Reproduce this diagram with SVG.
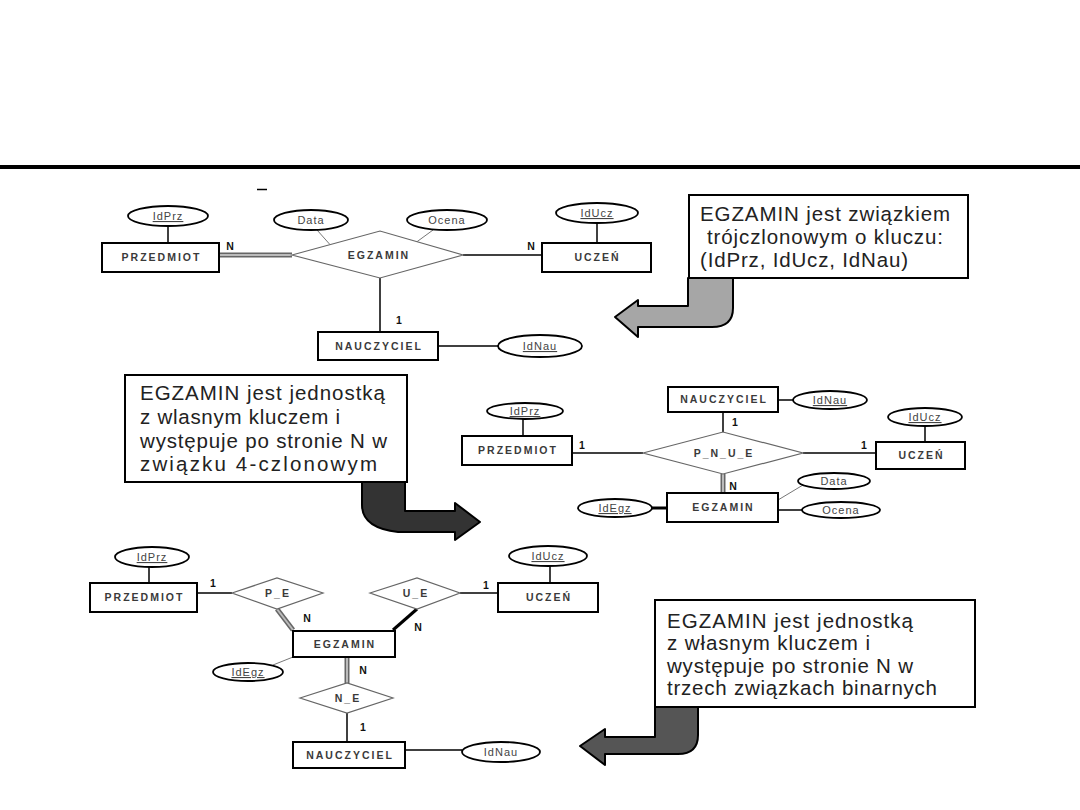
<svg xmlns="http://www.w3.org/2000/svg" width="1080" height="810" viewBox="0 0 1080 810">
<style>
.ent rect{fill:#fff;stroke:#000;stroke-width:2}
.ent text,.rel text{font-family:"Liberation Sans",Arial,sans-serif;font-size:10.5px;font-weight:bold;fill:#3a3a3a;text-anchor:middle;letter-spacing:2px}
.rel polygon{fill:#fff;stroke:#666;stroke-width:1.2}
.attr ellipse{fill:#fff;stroke:#000;stroke-width:1.8}
.attr text{font-family:"Liberation Sans",Arial,sans-serif;font-size:11px;fill:#444;text-anchor:middle;letter-spacing:1px}
.attr text.key{text-decoration:underline}
.card{font-family:"Liberation Sans",Arial,sans-serif;font-size:10.5px;font-weight:bold;fill:#111;text-anchor:middle}
.ln{stroke:#000;stroke-width:1.5;fill:none}
.thin{stroke:#777;stroke-width:1;fill:none}
.thick{stroke:#000;stroke-width:3;fill:none}
.dblo{stroke:#666;stroke-width:5;fill:none}
.dbli{stroke:#bbb;stroke-width:2;fill:none}
.note rect{fill:#fff;stroke:#000;stroke-width:2}
.note text{font-family:"Liberation Sans",Arial,sans-serif;font-size:20.5px;fill:#222}
.arrow{stroke:#000;stroke-width:2;stroke-linejoin:round}
</style>
<rect x="0" y="0" width="1080" height="810" fill="#fff"/>
<rect x="0" y="165" width="1080" height="4" fill="#000"/>
<line x1="257" y1="189.5" x2="267" y2="189.5" stroke="#000" stroke-width="1.5"/>

<g id="connectors">
  <!-- top diagram -->
  <line class="ln" x1="168" y1="226" x2="168" y2="243"/>
  <line class="dblo" x1="219" y1="255" x2="292" y2="255"/>
  <line class="dbli" x1="219" y1="255" x2="292" y2="255"/>
  <line class="thin" x1="317" y1="230" x2="330" y2="244.6"/>
  <line class="thin" x1="433" y1="230" x2="417" y2="241.7"/>
  <line class="ln" x1="463" y1="255" x2="542" y2="255"/>
  <line class="ln" x1="597" y1="223" x2="597" y2="243"/>
  <line class="ln" x1="380" y1="278" x2="380" y2="332"/>
  <line class="ln" x1="438" y1="346" x2="498" y2="346"/>
  <text class="card" x="230" y="250">N</text>
  <text class="card" x="531" y="250">N</text>
  <text class="card" x="399" y="324">1</text>
  <!-- middle diagram -->
  <line class="ln" x1="778" y1="400" x2="793" y2="400"/>
  <line class="ln" x1="723" y1="412" x2="723" y2="432"/>
  <line class="ln" x1="523" y1="419" x2="523" y2="436"/>
  <line class="ln" x1="572" y1="453" x2="643" y2="453"/>
  <line class="ln" x1="803" y1="453" x2="876" y2="453"/>
  <line class="ln" x1="925" y1="426" x2="925" y2="442"/>
  <line class="dblo" x1="723" y1="474" x2="723" y2="493"/>
  <line class="dbli" x1="723" y1="474" x2="723" y2="493"/>
  <line class="thick" x1="652" y1="508" x2="667" y2="508"/>
  <line class="thin" x1="778" y1="500" x2="803" y2="485"/>
  <line class="ln" x1="778" y1="510" x2="802" y2="510"/>
  <text class="card" x="735" y="426">1</text>
  <text class="card" x="582" y="449">1</text>
  <text class="card" x="864" y="449">1</text>
  <text class="card" x="733" y="490">N</text>
  <!-- bottom diagram -->
  <line class="ln" x1="149" y1="567" x2="149" y2="583"/>
  <line class="ln" x1="197" y1="593" x2="232" y2="593"/>
  <line class="dblo" x1="277" y1="609" x2="293" y2="630"/>
  <line class="dbli" x1="277" y1="609" x2="293" y2="630"/>
  <line class="thin" x1="273" y1="665" x2="293" y2="657"/>
  <line class="dblo" x1="347" y1="657" x2="347" y2="683"/>
  <line class="dbli" x1="347" y1="657" x2="347" y2="683"/>
  <line class="ln" x1="347" y1="713" x2="347" y2="742"/>
  <line class="ln" x1="405" y1="750" x2="462" y2="750"/>
  <line class="thick" x1="417" y1="609" x2="393" y2="630"/>
  <line class="ln" x1="460" y1="593" x2="498" y2="593"/>
  <line class="ln" x1="550" y1="566" x2="550" y2="583"/>
  <text class="card" x="213" y="587">1</text>
  <text class="card" x="307" y="622">N</text>
  <text class="card" x="363" y="674">N</text>
  <text class="card" x="363" y="731">1</text>
  <text class="card" x="418" y="631">N</text>
  <text class="card" x="486" y="589">1</text>
</g>

<!-- top diagram nodes -->
<g id="t-idprz" class="attr"><ellipse cx="168" cy="216" rx="40" ry="10"/><text class="key" x="168" y="220">IdPrz</text></g>
<g id="t-przedmiot" class="ent"><rect x="102" y="243" width="117" height="29"/><text x="161.5" y="261">PRZEDMIOT</text></g>
<g id="t-egzamin" class="rel"><polygon points="292,255 380,231 463,255 380,278"/><text x="379" y="259">EGZAMIN</text></g>
<g id="t-data" class="attr"><ellipse cx="311" cy="220" rx="37" ry="10"/><text x="311" y="224">Data</text></g>
<g id="t-ocena" class="attr"><ellipse cx="447" cy="220" rx="40" ry="10"/><text x="447" y="224">Ocena</text></g>
<g id="t-uczen" class="ent"><rect x="542" y="243" width="109" height="29"/><text x="597.5" y="261">UCZEŃ</text></g>
<g id="t-iducz" class="attr"><ellipse cx="597" cy="213" rx="41" ry="10"/><text class="key" x="597" y="217">IdUcz</text></g>
<g id="t-nauczyciel" class="ent"><rect x="318" y="332" width="120" height="28"/><text x="379" y="350">NAUCZYCIEL</text></g>
<g id="t-idnau" class="attr"><ellipse cx="540" cy="346" rx="42" ry="11"/><text class="key" x="540" y="350">IdNau</text></g>

<!-- middle diagram nodes -->
<g id="m-nauczyciel" class="ent"><rect x="668" y="387" width="110" height="25"/><text x="724" y="403">NAUCZYCIEL</text></g>
<g id="m-idnau" class="attr"><ellipse cx="830" cy="400" rx="37" ry="9"/><text class="key" x="830" y="404">IdNau</text></g>
<g id="m-pnue" class="rel"><polygon points="643,453 723,432 803,453 723,474"/><text x="724" y="457">P_N_U_E</text></g>
<g id="m-idprz" class="attr"><ellipse cx="525" cy="411" rx="38" ry="8"/><text class="key" x="525" y="415">IdPrz</text></g>
<g id="m-przedmiot" class="ent"><rect x="462" y="436" width="110" height="29"/><text x="518" y="454">PRZEDMIOT</text></g>
<g id="m-uczen" class="ent"><rect x="876" y="442" width="89" height="27"/><text x="921.5" y="459">UCZEŃ</text></g>
<g id="m-iducz" class="attr"><ellipse cx="925" cy="417" rx="37" ry="9"/><text class="key" x="925" y="421">IdUcz</text></g>
<g id="m-egzamin" class="ent"><rect x="667" y="493" width="111" height="29"/><text x="723.5" y="511">EGZAMIN</text></g>
<g id="m-idegz" class="attr"><ellipse cx="615" cy="508" rx="37" ry="9"/><text class="key" x="615" y="512">IdEgz</text></g>
<g id="m-data" class="attr"><ellipse cx="834" cy="481" rx="36" ry="8"/><text x="834" y="485">Data</text></g>
<g id="m-ocena" class="attr"><ellipse cx="841" cy="510" rx="39" ry="8"/><text x="841" y="514">Ocena</text></g>

<!-- bottom diagram nodes -->
<g id="b-idprz" class="attr"><ellipse cx="152" cy="557" rx="37" ry="10"/><text class="key" x="152" y="561">IdPrz</text></g>
<g id="b-przedmiot" class="ent"><rect x="90" y="583" width="107" height="29"/><text x="144.5" y="601">PRZEDMIOT</text></g>
<g id="b-pe" class="rel"><polygon points="232,593 277,578 323,593 277,609"/><text x="278" y="597">P_E</text></g>
<g id="b-ue" class="rel"><polygon points="370,593 417,578 460,593 417,609"/><text x="416" y="597">U_E</text></g>
<g id="b-uczen" class="ent"><rect x="498" y="583" width="100" height="29"/><text x="549" y="601">UCZEŃ</text></g>
<g id="b-iducz" class="attr"><ellipse cx="548" cy="556" rx="39" ry="10"/><text class="key" x="548" y="560">IdUcz</text></g>
<g id="b-egzamin" class="ent"><rect x="293" y="631" width="102" height="26"/><text x="345" y="648">EGZAMIN</text></g>
<g id="b-idegz" class="attr"><ellipse cx="248" cy="672" rx="35" ry="9"/><text class="key" x="248" y="676">IdEgz</text></g>
<g id="b-ne" class="rel"><polygon points="300,698 347,683 393,698 347,713"/><text x="348" y="702">N_E</text></g>
<g id="b-nauczyciel" class="ent"><rect x="293" y="742" width="112" height="26"/><text x="350" y="759">NAUCZYCIEL</text></g>
<g id="b-idnau" class="attr"><ellipse cx="501" cy="752" rx="39" ry="10"/><text x="501" y="756">IdNau</text></g>

<!-- notes -->
<g id="note1" class="note">
  <path class="arrow" fill="#a6a6a6" d="M688 278 L733 278 L733 308 Q733 327 712 327 L638 327 L638 337 L615 317 L638 300 L638 306 L688 306 Z"/>
  <rect x="689" y="195" width="279" height="83"/>
  <text x="700" y="221" textLength="250" lengthAdjust="spacing">EGZAMIN jest związkiem</text>
  <text x="707" y="244" textLength="236" lengthAdjust="spacing">trójczlonowym o kluczu:</text>
  <text x="700" y="267" textLength="208" lengthAdjust="spacing">(IdPrz, IdUcz, IdNau)</text>
</g>
<g id="note2" class="note">
  <path class="arrow" fill="#333" d="M362 482 L405 482 L405 511 L455 511 L455 503 L480 522 L455 540 L455 532 L398 532 Q362 528 362 505 Z"/>
  <rect x="125" y="375" width="282" height="107"/>
  <text x="140" y="400" textLength="245" lengthAdjust="spacing">EGZAMIN jest jednostką</text>
  <text x="140" y="424" textLength="200" lengthAdjust="spacing">z wlasnym kluczem i</text>
  <text x="140" y="448" textLength="247" lengthAdjust="spacing">występuje po stronie N w</text>
  <text x="140" y="471" textLength="237" lengthAdjust="spacing">związku 4-czlonowym</text>
</g>
<g id="note3" class="note">
  <path class="arrow" fill="#555" d="M655 707 L698 707 L698 735 Q698 754 678 754 L605 754 L605 765 L580 746 L605 729 L605 737 L655 737 Z"/>
  <rect x="655" y="600" width="320" height="107"/>
  <text x="667" y="628" textLength="246" lengthAdjust="spacing">EGZAMIN jest jednostką</text>
  <text x="667" y="650" textLength="203" lengthAdjust="spacing">z własnym kluczem i</text>
  <text x="667" y="673" textLength="246" lengthAdjust="spacing">występuje po stronie N w</text>
  <text x="667" y="695" textLength="270" lengthAdjust="spacing">trzech związkach binarnych</text>
</g>
</svg>
